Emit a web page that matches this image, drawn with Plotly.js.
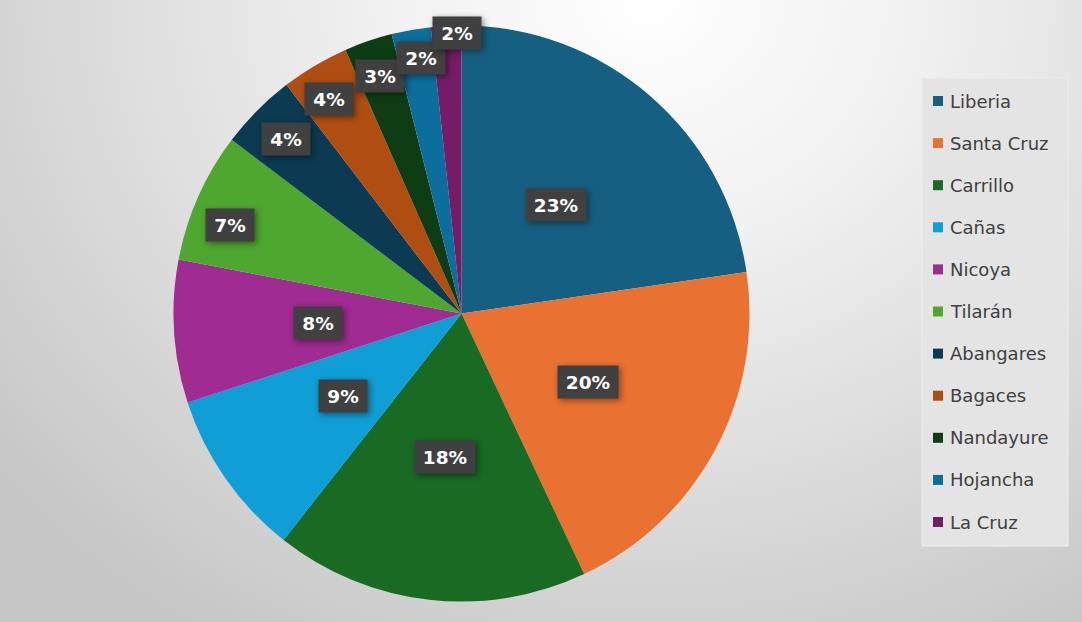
<!DOCTYPE html>
<html>
<head>
<meta charset="utf-8">
<script src="https://cdn.plot.ly/plotly-3.0.1.min.js"></script>
<style>
  html, body { margin: 0; padding: 0; }
  body {
    width: 1082px; height: 622px; overflow: hidden;
    background: radial-gradient(ellipse 78% 120% at 60% 0%, #ffffff 0%, #efefef 35%, #d9d9d9 70%, #c6c6c6 100%);
  }
  #chart { width: 1082px; height: 622px; }
  .annotation rect.bg { filter: drop-shadow(2px 2px 3px rgba(0,0,0,0.45)); }
</style>
</head>
<body>
<div id="chart"></div>
<script>
// ---- data ----
const categories = ["Liberia", "Santa Cruz", "Carrillo", "Cañas", "Nicoya", "Tilarán",
                    "Abangares", "Bagaces", "Nandayure", "Hojancha", "La Cruz"];
const shares = [22.7, 20.3, 17.6, 9.4, 8.0, 7.3, 4.3, 3.8, 2.7, 2.2, 1.7];
const sliceColors = ["#156082", "#E97132", "#196B24", "#0F9ED5", "#A02B93", "#4EA72E",
                     "#0C3A52", "#B04E12", "#0E3D14", "#0B6E9C", "#741D66"];

// ---- layout constants ----
const W = 1082, H = 622;
const cx = 461.5, cy = 313.5, R = 288;
const labelRadius = [0.5, 0.5, 0.5, 0.5, 0.5, 0.86, 0.86, 0.875, 0.87, 0.9, 0.975];
const labelTurn = [0, 0, 0, 0, 0, -3, 0, -1, 0, 1, 2.2]; // degrees, fine placement

const total = shares.reduce((a, b) => a + b, 0);

const trace = {
  type: "pie",
  labels: categories,
  values: shares,
  sort: false,
  direction: "clockwise",
  rotation: 0,
  marker: { colors: sliceColors, line: { width: 0 } },
  textinfo: "none",
  hoverinfo: "none",
  showlegend: false,
  domain: { x: [(cx - R) / W, (cx + R) / W], y: [(H - cy - R) / H, (H - cy + R) / H] }
};

const annotations = [];
const shapes = [];

// data labels
let cum = 0;
shares.forEach((v, i) => {
  const a0 = cum / total * 2 * Math.PI;
  cum += v;
  const a1 = cum / total * 2 * Math.PI;
  const mid = (a0 + a1) / 2 + labelTurn[i] * Math.PI / 180;
  const r = labelRadius[i] * R;
  const px = cx + r * Math.sin(mid);
  const py = cy - r * Math.cos(mid);
  const txt = Math.round(v / total * 100) + "%";
  annotations.push({
    xref: "paper", yref: "paper",
    x: px / W, y: 1 - py / H,
    xanchor: "center", yanchor: "middle",
    text: "<b>" + txt + "</b>",
    showarrow: false,
    font: { family: "DejaVu Sans", size: 18.5, color: "#ffffff" },
    bgcolor: "#404040",
    width: txt.length > 2 ? 58 : 46,
    height: 30,
    borderpad: 1
  });
});

// legend
const legX0 = 922, legX1 = 1068, legY0 = 78, legY1 = 546;
shapes.push({
  type: "rect", xref: "paper", yref: "paper",
  x0: legX0 / W, x1: legX1 / W, y0: 1 - legY1 / H, y1: 1 - legY0 / H,
  fillcolor: "#e4e4e4", line: { color: "#eeeeee", width: 1 }, layer: "below"
});
const legTop = 101, legStep = 42.1;
categories.forEach((name, i) => {
  const y = legTop + i * legStep;
  shapes.push({
    type: "rect", xref: "paper", yref: "paper",
    x0: 933 / W, x1: 943 / W, y0: 1 - (y + 5) / H, y1: 1 - (y - 5) / H,
    fillcolor: sliceColors[i], line: { width: 0 }
  });
  annotations.push({
    xref: "paper", yref: "paper",
    x: 948 / W, y: 1 - y / H,
    xanchor: "left", yanchor: "middle",
    text: name, showarrow: false,
    font: { family: "DejaVu Sans", size: 18, color: "#404040" }
  });
});

const layout = {
  width: W, height: H,
  margin: { l: 0, r: 0, t: 0, b: 0 },
  paper_bgcolor: "rgba(0,0,0,0)",
  plot_bgcolor: "rgba(0,0,0,0)",
  showlegend: false,
  annotations: annotations,
  shapes: shapes
};

Plotly.newPlot("chart", [trace], layout, { displayModeBar: false, staticPlot: true });
</script>
</body>
</html>
